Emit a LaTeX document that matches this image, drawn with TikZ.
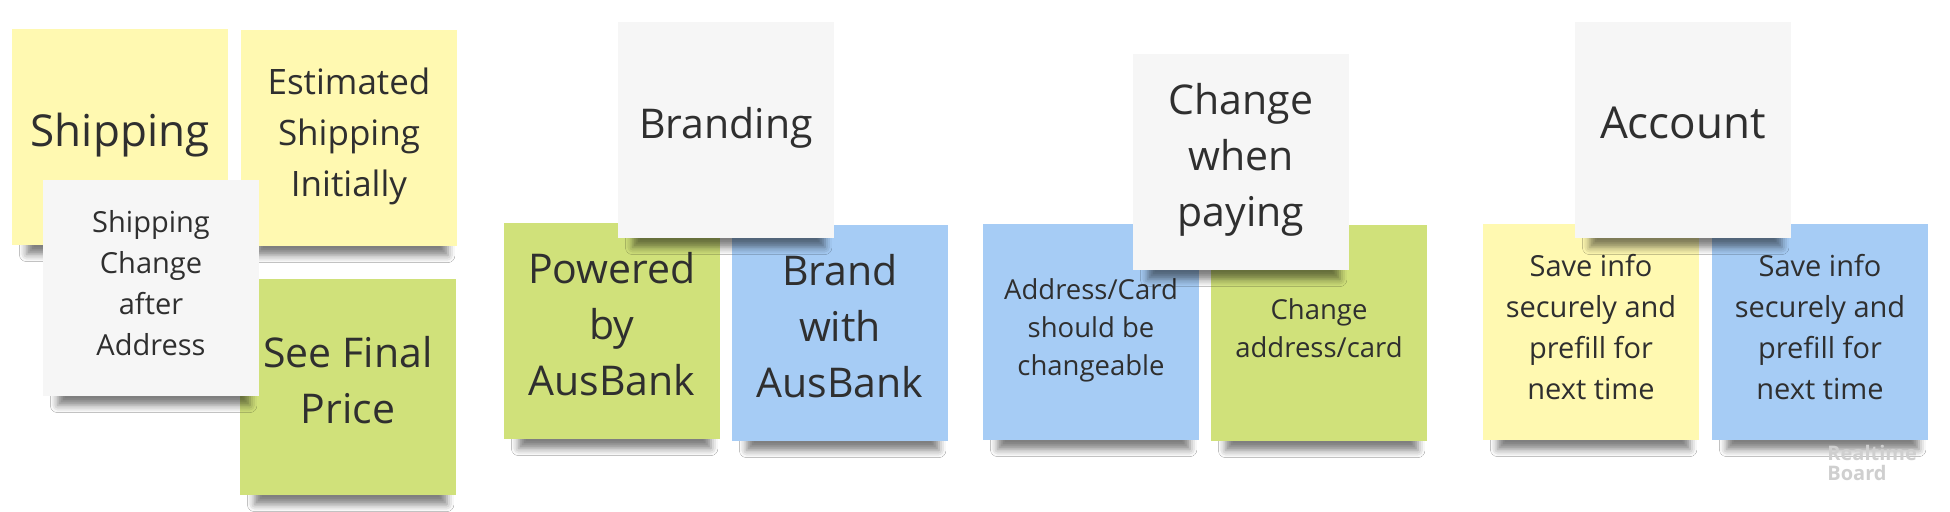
\documentclass[tikz,border=0pt]{standalone}
\usepackage{fontspec}
\setmainfont{Open Sans}
\usepackage{tikz}
\usetikzlibrary{shadows.blur}
\usepackage{xcolor}
\definecolor{stickyyellow}{HTML}{FFF9B1}
\definecolor{stickygreen}{HTML}{D0E17A}
\definecolor{stickyblue}{HTML}{A6CCF5}
\definecolor{stickywhite}{HTML}{F6F6F6}
\definecolor{stickyink}{HTML}{2F2F2F}
\definecolor{boardmark}{HTML}{CFCFCF}
\tikzset{
  sticky/.style={minimum width=108pt, minimum height=108pt, inner sep=0pt,
                 align=center, text=stickyink,
                 execute at end node={\rule[-0.35em]{0pt}{0.35em}},
                 blur shadow={shadow xshift=1.5pt, shadow yshift=-12pt,
                              shadow scale=0.89,
                              shadow opacity=50, shadow blur radius=4pt}},
  topic/.style={sticky, fill=stickywhite},
  yellownote/.style={sticky, fill=stickyyellow},
  greennote/.style={sticky, fill=stickygreen},
  bluenote/.style={sticky, fill=stickyblue},
  bigtext/.style={font=\fontsize{22}{28}\selectfont},
  headtext/.style={font=\fontsize{20.5}{28}\selectfont},
  midtext/.style={font=\fontsize{17.5}{25.5}\selectfont},
  smalltext/.style={font=\fontsize{14.5}{20.5}\selectfont},
  tinytext/.style={font=\fontsize{13.75}{19}\selectfont},
}

\begin{document}
\begin{tikzpicture}[x=0.5pt, y=-0.5pt]
\useasboundingbox[fill=white] (0,0) rectangle (1950,512);

% shipping
\node[yellownote, bigtext] (ship) at (120,137) {Shipping};
\node[yellownote, midtext] (est) at (349,138) {Estimated\\Shipping\\Initially};
\node[greennote, headtext] (final) at (348,387) {See Final\\Price};
\node[topic, smalltext] (shipchg) at (151,288) {Shipping\\Change\\after\\Address};

% branding
\node[greennote, headtext] (powered) at (612,331) {Powered\\by\\AusBank};
\node[bluenote, headtext] (brandwith) at (840,333) {Brand\\with\\AusBank};
\node[topic, headtext] (brand) at (726,130) {Branding};

% paying
\node[bluenote, tinytext] (addrcard) at (1091,332) {Address/Card\\should be\\changeable};
\node[greennote, tinytext] (chgaddr) at (1319,333) {Change\\address/card};
\node[topic, headtext] (paying) at (1241,162) {Change\\when\\paying};

% account
\node[yellownote, smalltext] (saveyel) at (1591,332) {Save info\\securely and\\prefill for\\next time};
\node[bluenote, smalltext] (saveblue) at (1820,332) {Save info\\securely and\\prefill for\\next time};
\node[topic, bigtext] (account) at (1683,130) {Account};

\node[font=\bfseries\fontsize{10}{10}\selectfont, text=boardmark, align=left,
      anchor=west, inner sep=0pt] (mark) at (1827,463) {Realtime\\Board};

\end{tikzpicture}
\end{document}
